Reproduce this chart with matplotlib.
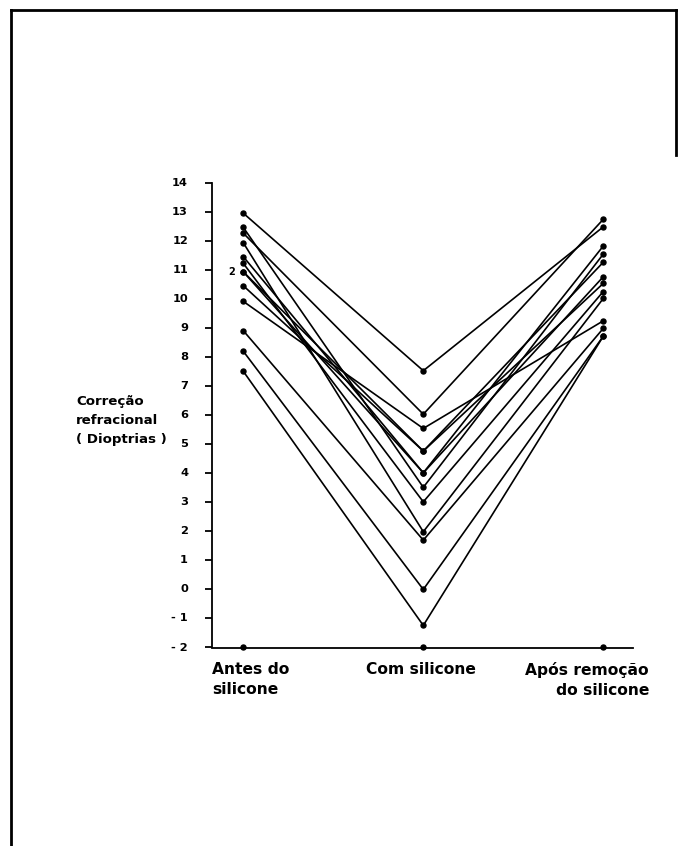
import matplotlib
matplotlib.use("Agg")
import matplotlib.pyplot as plt
from matplotlib.lines import Line2D

# ---- data ----
stages = ["Antes do\nsilicone", "Com silicone", "Após remoção\ndo silicone"]
antes = [12.97, 12.48, 12.28, 11.95, 11.47, 11.24, 10.95, 10.95, 10.47, 9.93, 8.92, 8.21, 7.52]
com   = [7.54, 3.52, 6.04, 1.99, 4.02, 3.02, 4.77, 4.02, 4.77, 5.55, 1.70, 0.00, -1.24]
apos  = [12.50, 11.56, 12.76, 10.03, 11.84, 10.27, 10.55, 10.78, 11.28, 9.26, 9.00, 8.73, 8.73]
yticks = list(range(-2, 15))
ytick_labels = ["- 2", "- 1"] + [str(v) for v in range(0, 15)]
ylabel_lines = ["Correção", "refracional", "( Dioptrias )"]
dup_label = "2"

W, H = 679, 846
fig = plt.figure(figsize=(W / 100, H / 100), dpi=100)
fig.patch.set_facecolor("white")

def fx(px):
    return px / W

def fy(py):
    return 1 - py / H

# axes placement (pixels from reference)
left_px, right_px, top_px, bot_px = 212.3, 632.7, 183.3, 647.5
ax = fig.add_axes([fx(left_px), fy(bot_px), fx(right_px - left_px), (bot_px - top_px) / H])
x0_px, x2_px = 243.3, 603.3
unit = (x2_px - x0_px) / 2.0
ax.set_xlim((left_px - x0_px) / unit, (right_px - x0_px) / unit)
ax.set_ylim(-2, 14)

xs = [0, 1, 2]
for a, c, p in zip(antes, com, apos):
    ax.plot(xs, [a, c, p], color="black", lw=1.2, marker="o", ms=3.6,
            solid_joinstyle="miter", clip_on=False, zorder=3)

# points on the baseline
ax.plot(xs, [-2, -2, -2], "o", color="black", ms=3.6, clip_on=False, zorder=4)

for s in ["top", "right"]:
    ax.spines[s].set_visible(False)
for s in ["left", "bottom"]:
    ax.spines[s].set_linewidth(1.3)
    ax.spines[s].set_color("black")

ax.set_xticks([])
ax.set_yticks(yticks)
ax.set_yticklabels([])
ax.tick_params(axis="y", direction="out", length=5, width=1.3, color="black")

# tick labels, right aligned
lab_x_axes = (188 - left_px) / (right_px - left_px)
for v, lab in zip(yticks, ytick_labels):
    ax.text(lab_x_axes, v, lab, transform=ax.get_yaxis_transform(),
            ha="right", va="center", fontsize=8.2, fontweight="bold",
            family="DejaVu Sans")

# duplicate marker label
ax.text(-0.045, antes[6], dup_label, ha="right", va="center",
        fontsize=7, fontweight="bold")

# y label (three lines, left aligned)
for line, base in zip(ylabel_lines, [405, 424, 443]):
    fig.text(fx(76), fy(base), line, ha="left", va="baseline", fontsize=9.6,
             fontweight="bold")

# category labels
fig.text(fx(212), fy(662), stages[0], ha="left", va="top", fontsize=11.2,
         fontweight="bold", linespacing=1.45)
fig.text(fx(421), fy(662), stages[1], ha="center", va="top", fontsize=11.2,
         fontweight="bold", linespacing=1.45)
fig.text(fx(649), fy(662), stages[2], ha="right", va="top", fontsize=11.2,
         fontweight="bold", linespacing=1.45, multialignment="right")

# page frame
frame_kw = dict(color="black", lw=2.0, transform=fig.transFigure)
fig.add_artist(Line2D([fx(11), fx(11)], [fy(10), fy(846)], **frame_kw))
fig.add_artist(Line2D([fx(11), fx(676)], [fy(10), fy(10)], **frame_kw))
fig.add_artist(Line2D([fx(676), fx(676)], [fy(10), fy(155)], **frame_kw))

fig.savefig("out.png", dpi=100, facecolor="white")
